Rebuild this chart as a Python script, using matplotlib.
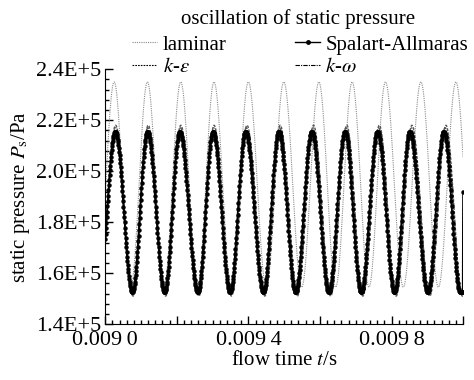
import numpy as np
import matplotlib
matplotlib.use("Agg")
import matplotlib.pyplot as plt
from matplotlib.ticker import MultipleLocator
from matplotlib.lines import Line2D

plt.rcParams['font.family'] = ['Liberation Serif', 'DejaVu Serif']
plt.rcParams['mathtext.fontset'] = 'stix'

# --- data ---
# times of the extrema (alternating trough / peak), values at the extrema
sa_times = [0.008982, 0.009028, 0.009076, 0.009118, 0.009166, 0.009208, 0.009259,
            0.009301, 0.009349, 0.009392, 0.009442, 0.009485, 0.009532, 0.009577,
            0.009625, 0.009670, 0.009715, 0.009761, 0.009808, 0.009851, 0.009901,
            0.009946, 0.009992]
sa_peak = 2.155e5
sa_trough = 1.525e5
sa_end = 1.92e5

ke_times = [0.008982, 0.009029, 0.009078, 0.009120, 0.009169, 0.009211, 0.009262,
            0.009304, 0.009353, 0.009396, 0.009446, 0.009489, 0.009537, 0.009582,
            0.009630, 0.009675, 0.009720, 0.009766, 0.009813, 0.009857, 0.009907,
            0.009952, 0.009998]
ke_peak = 2.18e5
ke_trough = 1.51e5
ke_end = 1.85e5

kw_times = [0.008982, 0.009029, 0.009077, 0.009119, 0.009168, 0.009210, 0.009261,
            0.009303, 0.009352, 0.009394, 0.009445, 0.009487, 0.009535, 0.009580,
            0.009628, 0.009673, 0.009718, 0.009764, 0.009811, 0.009855, 0.009905,
            0.009950, 0.009996]
kw_peak = 2.17e5
kw_trough = 1.515e5
kw_end = 1.80e5

lam_times = [0.008978, 0.009025, 0.009071, 0.009118, 0.009164, 0.009211, 0.009258,
             0.009304, 0.009352, 0.009400, 0.009450, 0.009499, 0.009549, 0.009597,
             0.009644, 0.009690, 0.009737, 0.009783, 0.009833, 0.009882, 0.009931,
             0.009980, 0.010028]
lam_peak = 2.35e5
lam_trough = 1.545e5

yticks = [1.4e5, 1.6e5, 1.8e5, 2.0e5, 2.2e5, 2.4e5]
ytick_labels = ['1.4E+5', '1.6E+5', '1.8E+5', '2.0E+5', '2.2E+5', '2.4E+5']
xticks = [0.0090, 0.0092, 0.0094, 0.0096, 0.0098, 0.0100]
xtick_labels = ['0.009\u20090', '', '0.009\u20094', '', '0.009\u20098', '']

t = np.arange(0.0090, 0.0100 + 1e-9, 1e-6)


def series(times, peak, trough):
    # half-cosine between consecutive extrema, first one is a trough
    vals = [trough if i % 2 == 0 else peak for i in range(len(times))]
    y = np.empty_like(t)
    for i in range(len(times) - 1):
        m = (t >= times[i]) & (t <= times[i + 1])
        f = (t[m] - times[i]) / (times[i + 1] - times[i])
        y[m] = vals[i] + (vals[i + 1] - vals[i]) * (1 - np.cos(np.pi * f)) / 2
    after = t > times[-1]
    y[after] = vals[-1]
    return y


y_sa = series(sa_times, sa_peak, sa_trough)
y_ke = series(ke_times, ke_peak, ke_trough)
y_kw = series(kw_times, kw_peak, kw_trough)
y_lam = series(lam_times, lam_peak, lam_trough)
y_sa[-1] = sa_end
y_ke[-1] = ke_end
y_kw[-1] = kw_end

fig = plt.figure(figsize=(4.74, 3.80), dpi=100)
ax = fig.add_axes([0.222, 0.147, 0.755, 0.671])

ax.plot(t, y_lam, color='#8a8a8a', lw=0.8, ls=(0, (1, 1)))
ax.plot(t, y_ke, color='#555555', lw=1.0, ls=(0, (2, 1)))
ax.plot(t, y_kw, color='#555555', lw=1.0, ls=(0, (4, 1, 1, 1)))
ax.plot(t, y_sa, color='black', lw=1.3, marker='o', ms=2.2, mec='black')

ax.set_xlim(0.0090, 0.0100)
ax.set_ylim(1.4e5, 2.4e5)
ax.set_xticks(xticks)
ax.set_xticklabels(xtick_labels, fontsize=16)
ax.set_yticks(yticks)
ax.set_yticklabels(ytick_labels, fontsize=16)
ax.xaxis.set_minor_locator(MultipleLocator(0.00002))
ax.yaxis.set_minor_locator(MultipleLocator(4000))
ax.tick_params(which='both', direction='in')
ax.tick_params(axis='x', which='major', pad=5)
ax.tick_params(axis='y', which='major', pad=3)
ax.tick_params(which='major', length=6, width=1)
ax.tick_params(which='minor', length=3, width=1)
for s in ['top', 'right']:
    ax.spines[s].set_visible(False)

ax.set_xlabel('flow time $t$/s', fontsize=15, labelpad=1)
ax.set_ylabel('static pressure $P_{\\rm s}$/Pa', fontsize=15, labelpad=3)
fig.text(0.629, 0.95, 'oscillation of static pressure', fontsize=15,
         ha='center', va='center')

handles = [
    Line2D([0, 1, 2], [0, 0, 0], color='#8a8a8a', lw=0.8, ls=(0, (1, 1))),
    Line2D([0, 1, 2], [0, 0, 0], color='black', lw=0.8, ls=(0, (1.5, 1))),
    Line2D([0, 1, 2], [0, 0, 0], color='black', lw=1.0, marker='o', ms=2.5),
    Line2D([0, 1, 2], [0, 0, 0], color='black', lw=0.8, ls=(0, (4, 1, 1, 1))),
]
labels = ['laminar', '$k$-$\\varepsilon$', 'Spalart-Allmaras', '$k$-$\\omega$']
ax.legend(handles, labels, ncol=2, loc='lower left', bbox_to_anchor=(0.076, 0.97),
          frameon=False, fontsize=15, handlelength=1.2, handletextpad=0.25,
          labelspacing=0.12, columnspacing=3.3, borderpad=0, borderaxespad=0,
          numpoints=1)

fig.savefig('out.png', dpi=100)
